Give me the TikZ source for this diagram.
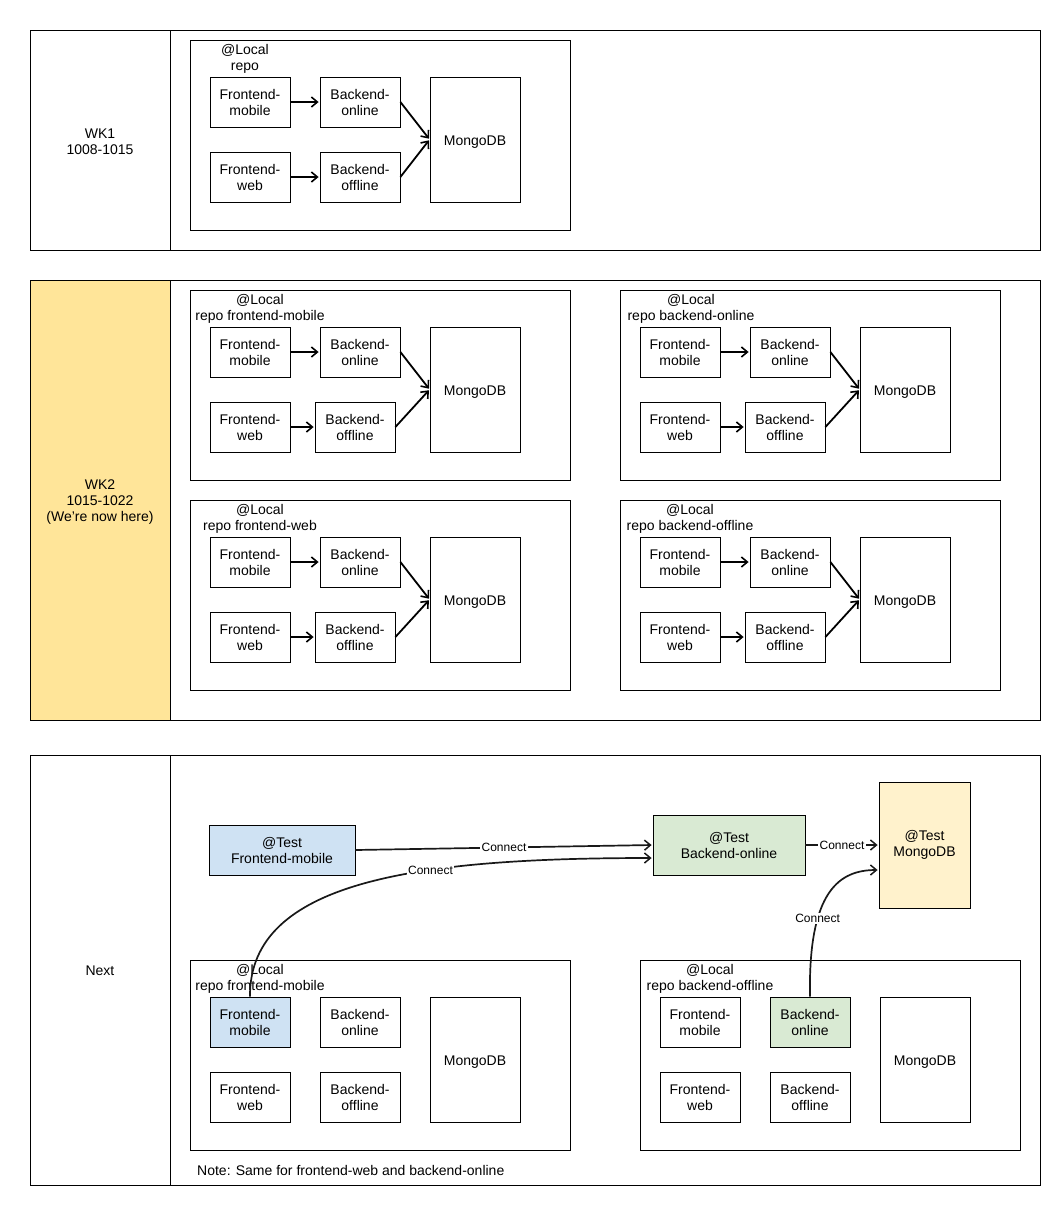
\documentclass[tikz,border=0pt]{standalone}
\usepackage{fontspec}
\setmainfont{Liberation Sans}
\usetikzlibrary{arrows.meta}
\definecolor{wkyellow}{HTML}{FFE599}
\definecolor{tblue}{HTML}{CFE2F3}
\definecolor{tgreen}{HTML}{D9EAD3}
\definecolor{tyellow}{HTML}{FFF2CC}
\tikzset{
  cell/.style={draw, line width=0.8pt, anchor=north west, inner sep=0pt},
  frame/.style={draw, line width=0.8pt, minimum width=380pt, minimum height=190pt, anchor=north west, inner sep=0pt},
  txt/.style={align=center, font=\fontsize{14}{16}\selectfont, inner sep=0pt},
  box/.style={draw, line width=0.8pt, minimum width=80pt, minimum height=50pt, align=center, font=\fontsize{14}{16}\selectfont, inner sep=0pt},
  dbbox/.style={box, minimum width=90pt, minimum height=125pt},
  flow/.style={-{Straight Barb[length=6pt,width=10pt,line width=1.6pt]}, line width=1.8pt, shorten >=1pt},
  conn/.style={-{Straight Barb[length=6pt,width=10pt,line width=1.5pt]}, line width=1.7pt, shorten >=1pt, draw=black!90},
  clabel/.style={fill=white, font=\fontsize{12}{14}\selectfont, inner sep=1.5pt},
}
% #1 prefix, #2 x, #3 y, #4 label 2nd line, #5 label centre x, #6 offline centre x, #7 fm style, #8 bon style
\newcommand\minirepo[8]{%
  \node[frame] (#1f) at (#2,#3) {};
  \begin{scope}[shift={(#2,#3)}]
    \node[txt] (#1l) at (#5,18.5) {@Local\\#4};
    \node[box,#7] (#1fm) at (60,62) {Frontend-\\mobile};
    \node[box,#8] (#1bon) at (170,62) {Backend-\\online};
    \node[box] (#1fw) at (60,137) {Frontend-\\web};
    \node[box] (#1boff) at (#6,137) {Backend-\\offline};
    \node[dbbox] (#1db) at (285,99.5) {\raisebox{0pt}[11pt][0pt]{MongoDB}};
  \end{scope}}
\newcommand\miniflows[1]{%
  \draw[flow] (#1fm) -- (#1bon);
  \draw[flow] (#1fw) -- (#1boff);
  \draw[flow] (#1bon.east) -- (#1db.west);
  \draw[flow] (#1boff.east) -- (#1db.west);}
\begin{document}
\begin{tikzpicture}[x=1pt,y=-1pt]
\useasboundingbox (0,0) rectangle (1060,1205);
\fill[white] (0,0) rectangle (1060,1205);

% Row 1
\node[cell, minimum width=1010pt, minimum height=220pt] (row1) at (30,30) {};
\node[cell, minimum width=140pt, minimum height=220pt] (row1h) at (30,30) {};
\node[txt] (wk1) at (100,142) {WK1\\1008-1015};
\minirepo{a}{190}{40}{repo}{55}{170}{}{}
\miniflows{a}

% Row 2
\node[cell, minimum width=1010pt, minimum height=440pt] (row2) at (30,280) {};
\node[cell, fill=wkyellow, minimum width=140pt, minimum height=440pt] (row2h) at (30,280) {};
\node[txt] (wk2) at (100,502) {WK2\\1015-1022\\(We're now here)};
\minirepo{b}{190}{290}{repo frontend-mobile}{70}{165}{}{}
\miniflows{b}
\minirepo{c}{620}{290}{repo backend-online}{71}{165}{}{}
\miniflows{c}
\minirepo{d}{190}{500}{repo frontend-web}{70}{165}{}{}
\miniflows{d}
\minirepo{e}{620}{500}{repo backend-offline}{70}{165}{}{}
\miniflows{e}

% Row 3
\node[cell, minimum width=1010pt, minimum height=430pt] (row3) at (30,755) {};
\node[cell, minimum width=140pt, minimum height=430pt] (row3h) at (30,755) {};
\node[txt] (nxt) at (100,971) {Next};
\minirepo{g}{190}{960}{repo frontend-mobile}{70}{170}{fill=tblue}{}
\minirepo{h}{640}{960}{repo backend-offline}{70}{170}{}{fill=tgreen}
\node[txt, anchor=west] (note) at (197,1170) {Note: Same for frontend-web and backend-online};

\node[box, fill=tblue, minimum width=146pt, minimum height=50pt] (tfm) at (282,850) {@Test\\Frontend-mobile};
\node[box, fill=tgreen, minimum width=152pt, minimum height=60pt] (tbon) at (729,845) {@Test\\Backend-online};
\node[box, fill=tyellow, minimum width=91pt, minimum height=126pt] (tdb) at (924.5,845) {@Test\\MongoDB};

\draw[conn] (tfm.east) -- node[clabel] (c1) {Connect} (tbon.west);
\draw[conn] (gfm.north) .. controls (249,880) and (420,858) .. node[clabel, pos=0.64] (c2) {Connect} ([yshift=-13pt]tbon.west);
\draw[conn] (tbon.east) -- node[clabel] (c3) {Connect} (tdb.west);
\draw[conn] (hbon.north) .. controls (808,890) and (840,870) .. node[clabel, pos=0.32] (c4) {Connect} ([yshift=-25pt]tdb.west);
\end{tikzpicture}
\end{document}
